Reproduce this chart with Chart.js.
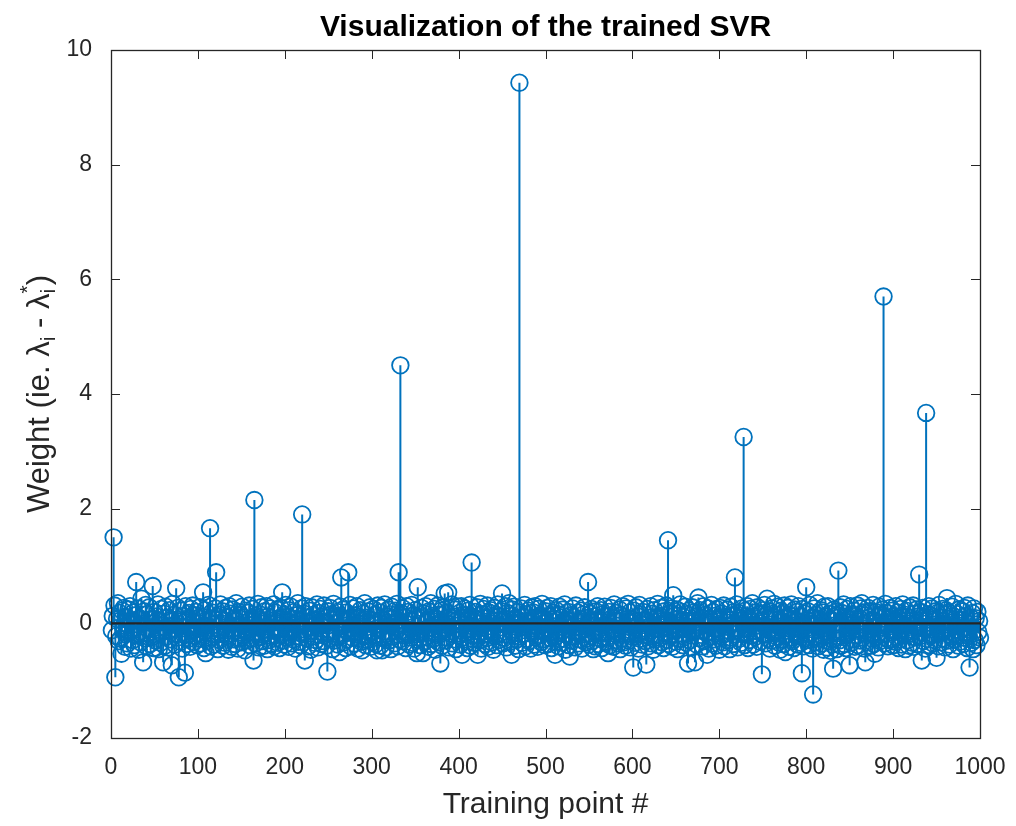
<!DOCTYPE html>
<html>
<head>
<meta charset="utf-8">
<title>Visualization of the trained SVR</title>
<script src="https://cdn.jsdelivr.net/npm/chart.js@4.4.1/dist/chart.umd.min.js"></script>
<style>
  html, body { margin: 0; padding: 0; background: #fff; }
  #wrap { width: 1016px; height: 826px; }
</style>
</head>
<body>
<div id="wrap"><canvas id="svrChart" width="1016" height="826"></canvas></div>
<script>
// Weight of each training point (lambda_i - lambda*_i), 100 points per block
const weights1_100 = [
  -0.12, 0.13, 1.5, 0.31, -0.94, -0.22, 0.08, 0.35, -0.31, 0.18,
  -0.27, -0.53, 0.22, -0.08, 0.27, -0.41, -0.19, 0.11, -0.35, 0.24,
  -0.15, 0.3, -0.44, 0.05, -0.29, 0.19, -0.38, 0.14, 0.72, -0.21,
  0.26, -0.46, 0.09, -0.33, 0.43, -0.17, -0.68, 0.21, -0.26, 0.32,
  -0.4, 0.16, -0.11, 0.28, -0.36, 0.07, -0.24, 0.65, -0.43, 0.2,
  -0.3, 0.12, -0.2, 0.33, -0.45, 0.04, -0.34, 0.25, -0.14, -0.68,
  0.17, -0.39, 0.29, -0.23, 0.1, -0.42, 0.23, -0.28, 0.06, -0.73,
  0.34, -0.18, 0.15, -0.37, 0.61, -0.25, 0.27, -0.94, 0.03, -0.32,
  0.22, -0.44, 0.13, -0.2, -0.86, 0.3, -0.36, 0.08, -0.27, 0.18,
  -0.41, 0.25, -0.1, 0.31, -0.33, 0.14, -0.22, 0.2, -0.38, 0.09
];
const weights101_200 = [
  -0.26, 0.28, -0.35, 0.12, -0.19, 0.54, -0.43, 0.23, -0.52, 0.06,
  -0.31, 0.32, -0.16, 1.66, -0.4, 0.19, -0.24, 0.09, -0.37, 0.26,
  0.89, -0.2, -0.45, 0.15, -0.29, 0.33, -0.12, 0.21, -0.39, 0.05,
  -0.34, 0.27, -0.22, 0.11, -0.46, 0.3, -0.18, 0.17, -0.41, 0.24,
  -0.28, 0.08, -0.36, 0.35, -0.13, -0.44, 0.2, -0.25, 0.14, -0.33,
  0.29, -0.21, 0.1, -0.47, 0.22, -0.3, 0.18, -0.15, 0.31, -0.38,
  0.07, -0.27, 0.25, -0.65, 2.15, -0.35, 0.13, -0.2, 0.34, -0.42,
  0.16, -0.24, 0.28, -0.31, 0.04, -0.39, 0.21, -0.17, 0.3, -0.45,
  0.12, -0.29, 0.26, -0.36, 0.09, -0.23, 0.33, -0.4, 0.19, -0.14,
  0.24, -0.34, 0.06, -0.43, 0.27, -0.2, 0.54, -0.3, 0.15, -0.37
];
const weights201_300 = [
  0.32, -0.25, 0.11, -0.41, 0.23, -0.16, 0.29, -0.35, 0.08, -0.28,
  0.2, -0.44, 0.14, -0.22, 0.35, -0.32, 0.05, -0.38, 0.26, 1.9,
  -0.19, 0.17, -0.65, 0.3, -0.27, 0.1, -0.4, 0.22, -0.13, -0.46,
  0.28, -0.23, 0.15, -0.34, 0.07, -0.29, 0.33, -0.42, 0.18, -0.2,
  0.25, -0.36, 0.12, -0.31, 0.31, -0.18, 0.03, -0.39, -0.84, 0.21,
  -0.26, 0.27, -0.14, 0.16, -0.45, 0.34, -0.3, 0.09, -0.24, 0.2,
  -0.37, 0.13, -0.5, 0.29, 0.8, -0.21, 0.24, -0.33, 0.06, -0.43,
  0.19, -0.28, 0.89, -0.15, 0.32, -0.4, 0.11, -0.25, 0.26, -0.35,
  0.14, -0.19, 0.3, -0.44, 0.08, -0.27, 0.23, -0.32, -0.47, 0.17,
  -0.22, 0.35, -0.38, 0.1, -0.29, 0.21, -0.16, 0.28, -0.41, 0.05
];
const weights301_400 = [
  -0.33, 0.25, -0.2, 0.15, -0.36, -0.47, 0.31, -0.12, 0.19, -0.39,
  0.27, -0.47, 0.07, -0.26, 0.33, -0.42, 0.12, -0.18, 0.24, -0.3,
  0.16, -0.45, 0.29, -0.23, 0.09, -0.35, 0.22, -0.14, 0.34, -0.4,
  0.89, -0.28, 4.5, 0.18, -0.31, 0.26, -0.21, 0.11, -0.43, 0.3,
  -0.17, 0.2, -0.37, 0.04, -0.25, 0.32, -0.34, 0.14, -0.44, 0.23,
  -0.19, -0.52, 0.63, -0.29, 0.1, -0.38, 0.27, -0.13, -0.52, 0.17,
  -0.32, 0.3, -0.24, 0.06, -0.41, 0.21, -0.16, 0.35, -0.36, 0.13,
  -0.27, 0.25, -0.46, 0.08, -0.2, 0.31, -0.33, 0.15, -0.7, 0.22,
  -0.39, 0.28, -0.11, 0.52, -0.3, 0.19, -0.25, 0.54, -0.42, 0.1,
  -0.18, 0.33, -0.35, 0.12, -0.28, 0.24, -0.45, 0.05, 0.29, -0.22
];
const weights401_500 = [
  0.18, -0.37, 0.3, -0.55, 0.09, -0.24, 0.26, -0.31, 0.14, -0.43,
  0.22, -0.15, 0.32, -0.39, 1.06, -0.27, 0.11, -0.34, 0.2, -0.21,
  0.28, -0.55, 0.06, -0.3, 0.34, -0.44, 0.16, -0.19, 0.25, -0.36,
  0.1, -0.26, 0.31, -0.41, 0.19, -0.14, 0.23, -0.33, 0.04, -0.46,
  0.27, -0.22, 0.15, -0.38, 0.33, -0.29, 0.12, -0.17, 0.21, 0.52,
  -0.35, 0.08, -0.25, 0.3, -0.42, 0.18, -0.2, 0.35, -0.32, 0.13,
  -0.55, 0.24, -0.16, 0.29, -0.39, 0.07, -0.28, 0.2, -0.45, 9.43,
  -0.23, 0.26, -0.34, 0.11, -0.18, 0.32, -0.4, 0.16, -0.27, 0.22,
  -0.31, 0.05, -0.44, 0.28, -0.13, 0.19, -0.37, 0.3, -0.24, 0.1,
  -0.41, 0.25, -0.2, 0.14, -0.33, 0.34, -0.28, 0.09, -0.38, 0.21
];
const weights501_600 = [
  -0.15, 0.27, -0.36, 0.12, -0.25, 0.3, -0.43, 0.18, -0.21, 0.07,
  -0.55, 0.23, -0.32, 0.16, -0.4, 0.29, -0.17, 0.1, -0.34, 0.24,
  -0.27, 0.33, -0.46, 0.06, -0.2, 0.2, -0.38, -0.58, 0.14, -0.3,
  0.26, -0.23, 0.11, -0.42, 0.31, -0.16, 0.19, -0.35, 0.04, -0.28,
  0.22, -0.44, 0.15, -0.19, 0.28, -0.33, 0.09, -0.26, 0.72, -0.37,
  0.17, -0.22, 0.25, -0.31, -0.45, 0.12, -0.4, 0.21, -0.14, 0.3,
  -0.36, 0.08, -0.27, 0.23, -0.43, 0.16, -0.18, 0.29, -0.32, 0.13,
  -0.24, -0.52, 0.2, -0.38, 0.27, -0.12, 0.1, -0.41, 0.33, -0.29,
  0.18, -0.2, 0.05, -0.35, 0.24, -0.45, 0.14, -0.26, 0.3, -0.33,
  0.11, -0.39, 0.26, -0.17, 0.34, -0.3, 0.19, -0.42, 0.07, -0.23
];
const weights601_700 = [
  -0.77, 0.22, -0.34, 0.28, -0.19, 0.12, -0.44, 0.32, -0.27, 0.15,
  -0.37, 0.2, -0.14, 0.06, -0.31, -0.72, 0.25, -0.4, 0.1, -0.22,
  0.3, -0.35, 0.17, -0.46, 0.23, -0.28, 0.09, -0.2, 0.34, -0.38,
  0.13, -0.25, 0.27, -0.33, 0.04, -0.43, 0.21, -0.16, 0.31, -0.29,
  1.45, -0.36, 0.18, -0.21, 0.26, -0.41, 0.49, -0.12, 0.14, -0.32,
  0.24, -0.45, 0.08, -0.27, 0.33, -0.18, 0.2, -0.38, 0.11, -0.24,
  0.29, -0.34, 0.16, -0.7, 0.22, -0.3, 0.05, -0.42, 0.28, -0.15,
  0.19, -0.68, 0.12, -0.37, 0.35, 0.45, -0.26, 0.23, -0.2, 0.1,
  -0.4, 0.3, -0.31, 0.15, -0.17, -0.55, 0.26, -0.44, 0.07, -0.23,
  0.32, -0.35, 0.2, -0.28, 0.13, -0.39, 0.25, -0.14, 0.09, -0.46
];
const weights701_800 = [
  0.27, -0.22, 0.17, -0.33, 0.31, -0.4, 0.11, -0.18, 0.24, -0.3,
  0.06, -0.45, 0.29, -0.25, 0.14, -0.36, 0.2, 0.8, -0.13, 0.33,
  -0.42, 0.18, -0.27, 0.1, -0.34, 0.26, -0.19, 3.25, -0.38, 0.22,
  -0.16, 0.3, -0.43, 0.08, -0.29, 0.25, -0.21, 0.35, -0.37, 0.12,
  -0.24, 0.19, -0.41, 0.28, -0.14, 0.16, -0.32, 0.04, -0.89, 0.23,
  -0.2, 0.32, -0.35, 0.13, 0.43, -0.27, 0.21, -0.44, 0.09, -0.3,
  0.26, -0.17, 0.34, -0.39, 0.15, -0.23, 0.29, -0.33, 0.06, -0.46,
  0.22, -0.28, 0.18, -0.36, 0.31, -0.5, 0.11, -0.19, 0.27, -0.41,
  0.14, -0.25, 0.33, -0.31, 0.07, -0.43, 0.24, -0.15, 0.2, -0.37,
  0.3, -0.22, 0.12, -0.34, -0.87, 0.25, -0.4, 0.17, -0.26, 0.63
];
const weights801_900 = [
  -0.29, 0.21, -0.38, 0.32, -0.18, 0.1, -0.44, -1.24, 0.26, -0.33,
  0.15, -0.23, 0.35, -0.4, 0.08, -0.27, 0.23, -0.35, 0.19, -0.46,
  0.29, -0.2, 0.12, -0.42, 0.3, -0.31, 0.17, -0.48, 0.05, -0.37,
  -0.79, 0.24, -0.26, 0.2, -0.45, 0.14, 0.92, -0.3, 0.28, -0.39,
  0.18, -0.24, 0.33, -0.36, 0.11, -0.43, 0.25, -0.19, 0.07, -0.73,
  0.3, -0.34, 0.16, -0.28, 0.22, -0.41, 0.13, -0.21, 0.31, -0.38,
  0.09, -0.3, 0.26, 0.35, -0.25, 0.19, -0.44, -0.68, 0.14, -0.33,
  0.27, -0.17, 0.21, -0.39, 0.06, -0.27, 0.32, -0.36, -0.53, 0.2,
  -0.23, 0.12, -0.42, 0.29, -0.31, 0.16, -0.2, 0.24, 5.7, -0.35,
  0.34, -0.26, 0.18, -0.4, 0.1, -0.29, 0.27, -0.16, 0.22, -0.38
];
const weights901_1000 = [
  0.13, -0.32, 0.3, -0.24, 0.19, -0.43, 0.08, -0.28, 0.25, -0.37,
  0.33, -0.2, 0.15, -0.45, 0.22, -0.3, 0.11, -0.39, 0.28, -0.18,
  0.05, -0.34, 0.31, -0.41, 0.17, -0.25, 0.24, -0.36, 0.12, 0.85,
  -0.22, 0.2, -0.65, 0.27, -0.31, 0.09, -0.44, 3.67, -0.27, 0.16,
  0.3, -0.38, 0.14, -0.21, 0.26, -0.35, 0.07, -0.29, 0.21, -0.6,
  0.18, -0.4, 0.32, -0.17, 0.1, -0.33, 0.25, -0.26, 0.15, -0.42,
  0.23, 0.44, -0.3, 0.19, -0.37, 0.08, -0.23, 0.29, -0.45, 0.12,
  -0.28, 0.34, -0.2, 0.16, -0.39, 0.24, -0.32, 0.06, -0.25, 0.21,
  -0.36, 0.27, -0.16, 0.13, -0.43, 0.31, -0.22, -0.77, 0.1, -0.34,
  0.18, -0.45, 0.26, -0.29, 0.09, -0.38, 0.2, -0.15, 0.04, -0.25
];

const weights = [].concat(
  weights1_100, weights101_200, weights201_300, weights301_400, weights401_500,
  weights501_600, weights601_700, weights701_800, weights801_900, weights901_1000
);
const pointNumbers = weights.map((_, i) => i + 1); // training point #

const xRange = [0, 1000];
const xStep = 100;
const yRange = [-2, 10];
const yStep = 2;

const STEM_BLUE = '#0072BD';
const AXIS_GREY = '#262626';
const FONT = '"Liberation Sans", Arial, Helvetica, sans-serif';

// markers sit on top of each stem
const markerPoints = weights.map((v, i) => ({ x: pointNumbers[i], y: v }));

// each stem is a 0 -> value segment, broken by a null so lines don't join up
const stemPoints = [];
weights.forEach((v, i) => {
  stemPoints.push({ x: pointNumbers[i], y: 0 }, { x: pointNumbers[i], y: v }, { x: pointNumbers[i], y: null });
});

const baselinePoints = [{ x: xRange[0], y: 0 }, { x: xRange[1], y: 0 }];

// box around the axes with inward ticks on all four sides, plus titles
const frame = {
  id: 'frame',
  afterDatasetsDraw(chart) {
    const { ctx, chartArea: a, scales } = chart;
    const len = 9;
    ctx.save();
    ctx.strokeStyle = AXIS_GREY;
    ctx.lineWidth = 1;
    ctx.beginPath();
    scales.x.ticks.forEach(t => {
      const px = Math.round(scales.x.getPixelForValue(t.value)) + 0.5;
      ctx.moveTo(px, a.bottom); ctx.lineTo(px, a.bottom - len);
      ctx.moveTo(px, a.top); ctx.lineTo(px, a.top + len);
    });
    scales.y.ticks.forEach(t => {
      const py = Math.round(scales.y.getPixelForValue(t.value)) + 0.5;
      ctx.moveTo(a.left, py); ctx.lineTo(a.left + len, py);
      ctx.moveTo(a.right, py); ctx.lineTo(a.right - len, py);
    });
    ctx.stroke();
    ctx.lineWidth = 1.3;
    ctx.strokeRect(Math.round(a.left) + 0.5, Math.round(a.top) + 0.5,
      Math.round(a.right - a.left), Math.round(a.bottom - a.top));
    ctx.restore();
  },
  afterDraw(chart) {
    const { ctx, chartArea: a } = chart;
    const cx = (a.left + a.right) / 2;
    ctx.save();
    ctx.textAlign = 'center';
    ctx.textBaseline = 'alphabetic';

    ctx.fillStyle = '#000';
    ctx.font = 'bold 30px ' + FONT;
    ctx.fillText('Visualization of the trained SVR', cx, 36);

    ctx.fillStyle = AXIS_GREY;
    ctx.font = '30px ' + FONT;
    ctx.fillText('Training point #', cx, 813);

    // y label with subscripts / superscript: Weight (ie. λ_i - λ*_i)
    const big = 31, small = 21;
    const parts = [
      { t: 'Weight (ie. \u03bb' },
      { t: 'i', sub: true },
      { t: ' - \u03bb' },
      { t: 'i', sub: true, sup: '*' },
      { t: ')' }
    ];
    let total = 0;
    parts.forEach(p => {
      ctx.font = (p.sub ? small : big) + 'px ' + FONT;
      p.w = ctx.measureText(p.t).width;
      if (p.sup) p.w = Math.max(p.w, ctx.measureText(p.sup).width);
      total += p.w;
    });
    ctx.translate(49, (a.top + a.bottom) / 2);
    ctx.rotate(-Math.PI / 2);
    ctx.textAlign = 'left';
    let x = -total / 2;
    parts.forEach(p => {
      if (p.sub) {
        ctx.font = small + 'px ' + FONT;
        ctx.fillText(p.t, x, 6);
        if (p.sup) ctx.fillText(p.sup, x, -15);
      } else {
        ctx.font = big + 'px ' + FONT;
        ctx.fillText(p.t, x, 0);
      }
      x += p.w;
    });
    ctx.restore();
  }
};

const ctx = document.getElementById('svrChart').getContext('2d');

const svrChart = new Chart(ctx, {
  type: 'line',
  data: {
    datasets: [
      {
        label: 'baseline',
        data: baselinePoints,
        borderColor: AXIS_GREY,
        borderWidth: 2.2,
        pointRadius: 0,
        order: 0
      },
      {
        label: 'markers',
        data: markerPoints,
        showLine: false,
        pointStyle: 'circle',
        pointRadius: 8.3,
        pointBorderWidth: 1.8,
        pointBorderColor: STEM_BLUE,
        pointBackgroundColor: 'rgba(0,0,0,0)',
        clip: false,
        order: 1
      },
      {
        label: 'stems',
        data: stemPoints,
        borderColor: STEM_BLUE,
        borderWidth: 2,
        pointRadius: 0,
        spanGaps: false,
        order: 2
      }
    ]
  },
  options: {
    responsive: false,
    animation: false,
    events: [],
    layout: { padding: { left: 0, top: 50, right: 36, bottom: 0 } },
    plugins: {
      legend: { display: false },
      tooltip: { enabled: false },
      title: { display: false }
    },
    scales: {
      x: {
        type: 'linear',
        min: xRange[0],
        max: xRange[1],
        grid: { display: false },
        border: { display: false },
        ticks: {
          stepSize: xStep,
          autoSkip: false,
          maxRotation: 0,
          padding: 8,
          color: AXIS_GREY,
          font: { family: FONT, size: 23 },
          callback: v => String(v)
        },
        afterFit: s => { s.height = 88; s.paddingRight = 0; s.paddingLeft = 0; }
      },
      y: {
        type: 'linear',
        min: yRange[0],
        max: yRange[1],
        grid: { display: false },
        border: { display: false },
        ticks: {
          stepSize: yStep,
          padding: 11,
          color: AXIS_GREY,
          font: { family: FONT, size: 23 }
        },
        afterFit: s => { s.width = 111; s.paddingTop = 0; s.paddingBottom = 0; }
      }
    }
  },
  plugins: [frame]
});
</script>
</body>
</html>
